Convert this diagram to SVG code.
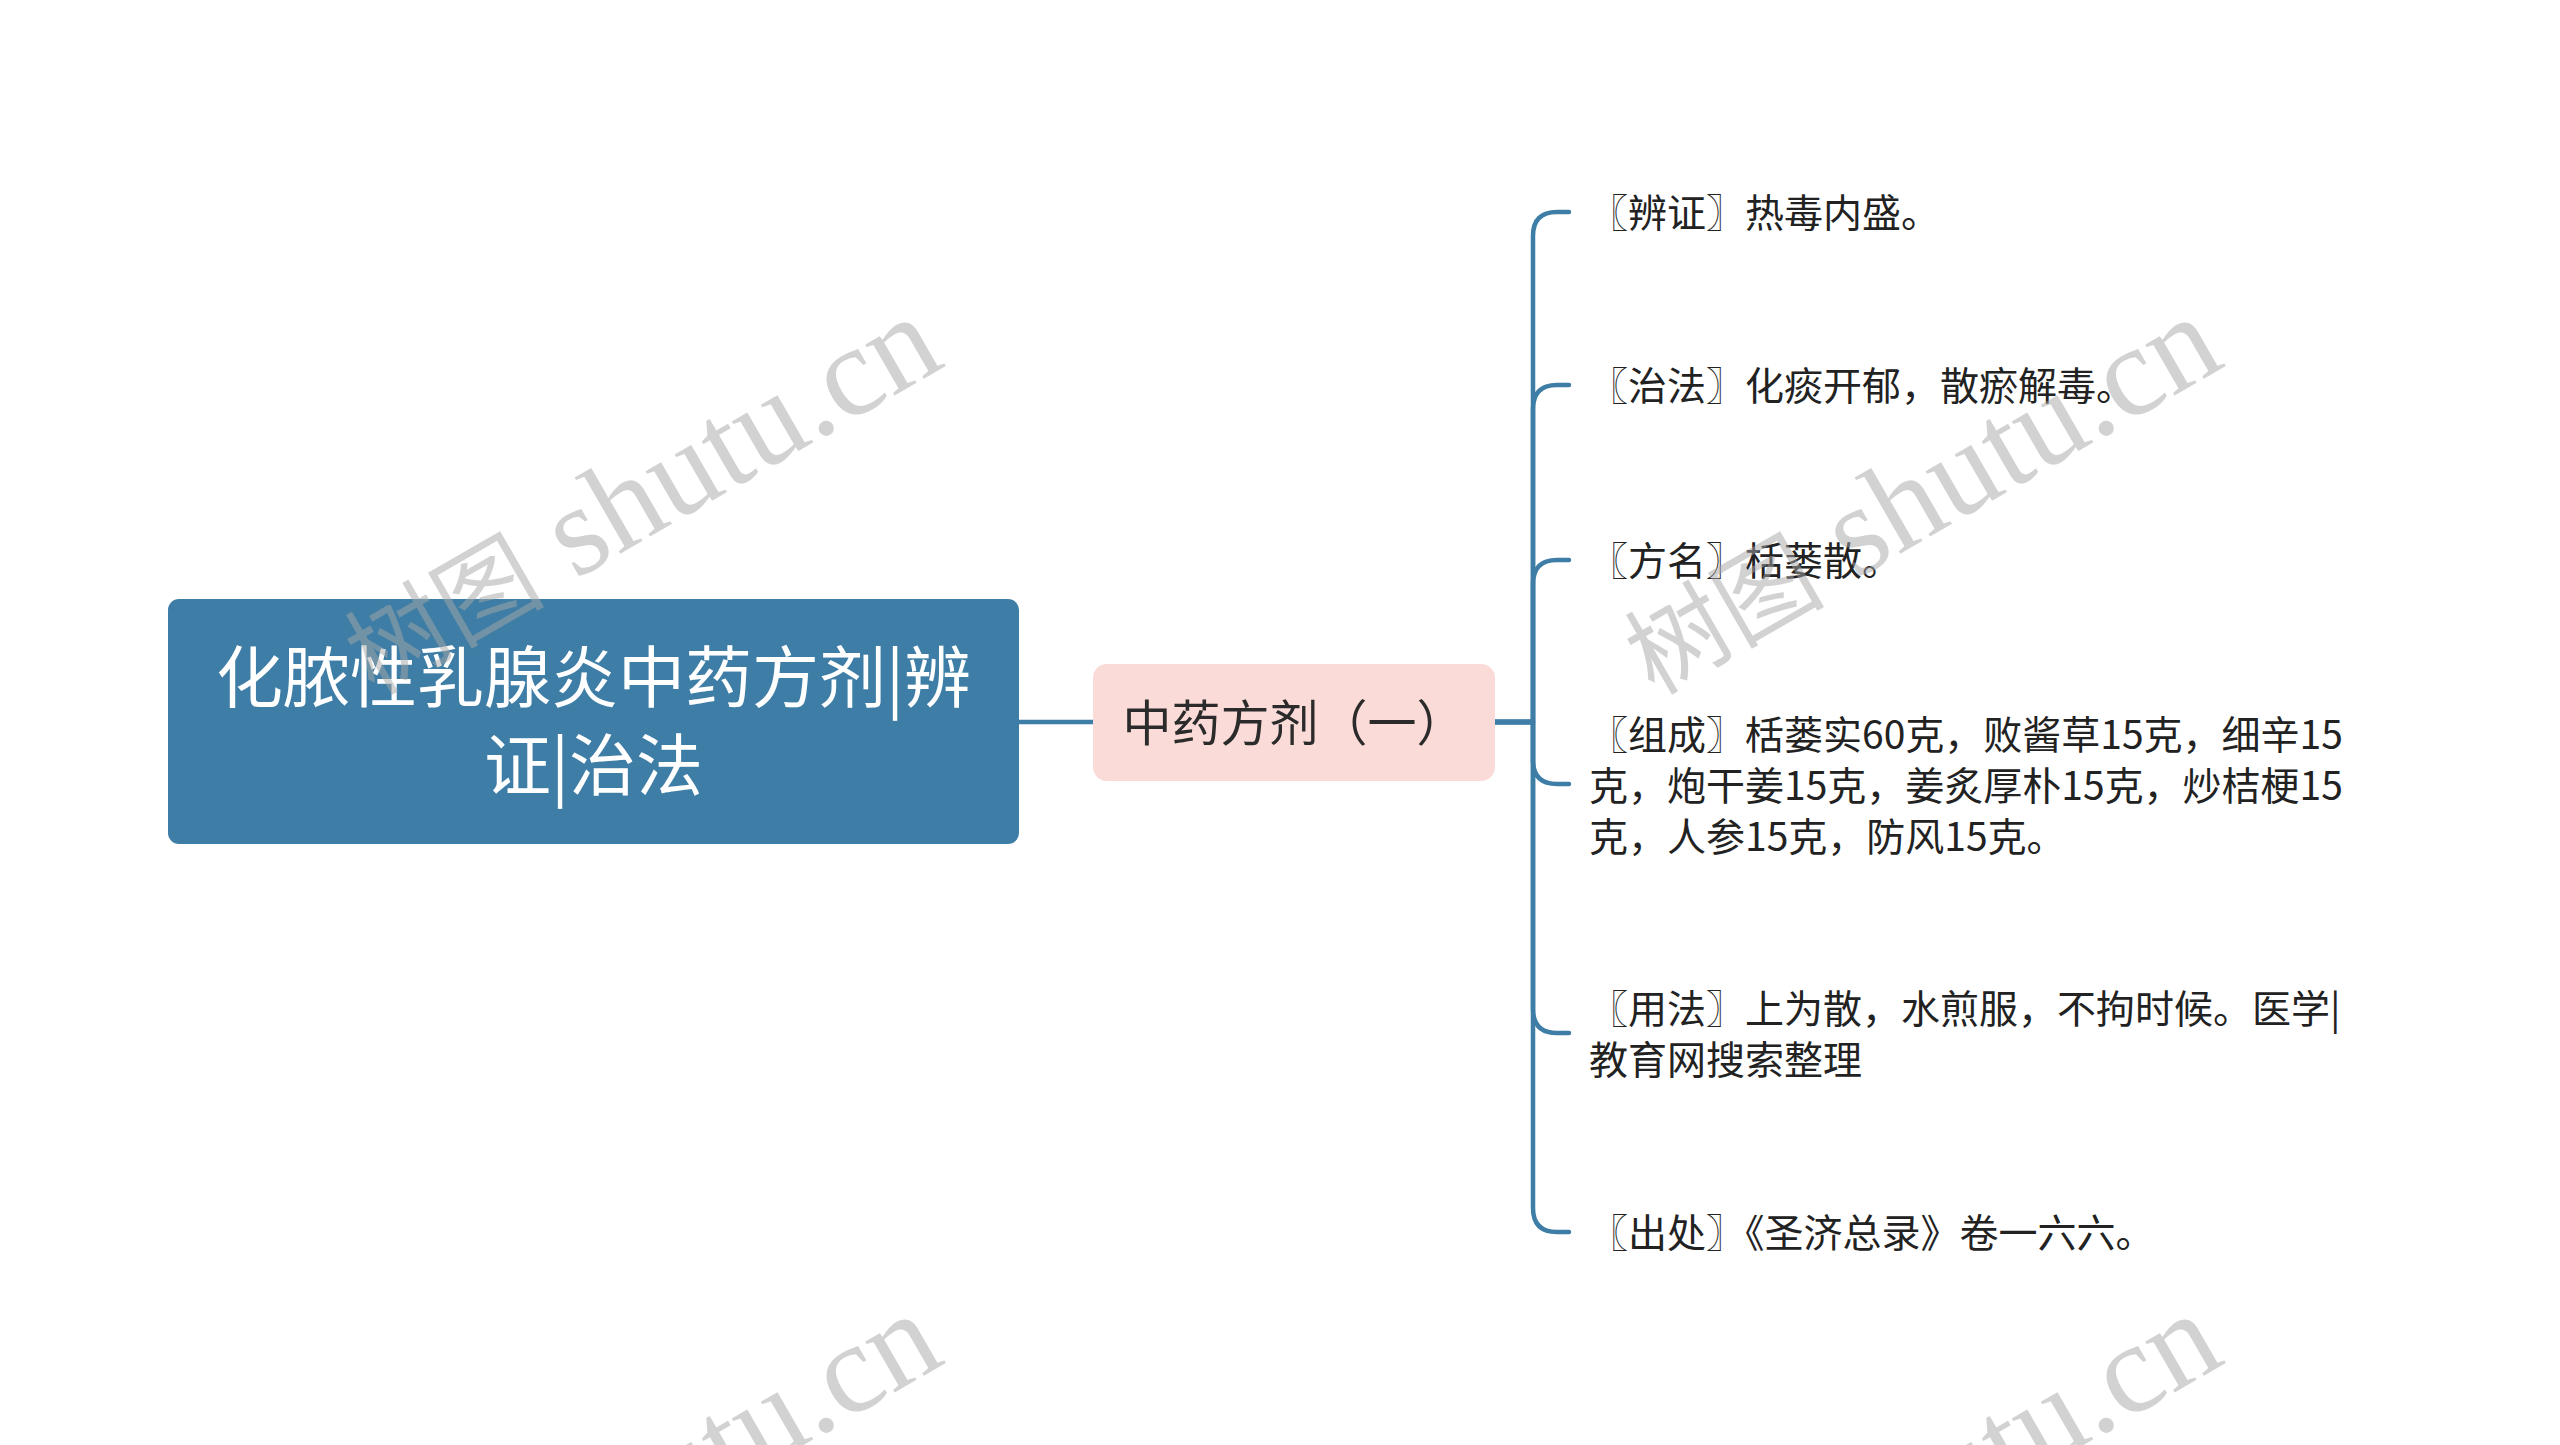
<svg xmlns="http://www.w3.org/2000/svg" width="2560" height="1445" viewBox="0 0 2560 1445">
<style>
.cjk{font-family:"Noto Sans CJK SC","Microsoft YaHei",sans-serif}
.root-t{font-size:67px;fill:#ffffff}
.mid-t{font-size:49px;fill:#2b2b2b}
.leaf-t{font-size:39px;fill:#222222}
.conn{fill:none;stroke:#3e7ea6;stroke-width:4.5;stroke-linecap:round;stroke-linejoin:round}
.wm{font-family:"Liberation Serif","Noto Sans CJK SC",serif;font-size:128px;fill:#a6a6a6;fill-opacity:0.5}
.wm-cjk{font-family:"Noto Sans CJK SC",serif;font-size:100px}
</style>
<rect width="2560" height="1445" fill="#ffffff"/>
<g id="connectors">
<path class="conn" d="M1019 722 H1093"/>
<path class="conn" d="M1495 722 H1533 V236 Q1533 212 1557 212 H1569"/>
<path class="conn" d="M1495 722 H1533 V409 Q1533 385 1557 385 H1569"/>
<path class="conn" d="M1495 722 H1533 V584 Q1533 560 1557 560 H1569"/>
<path class="conn" d="M1495 722 H1533 V760 Q1533 784 1557 784 H1569"/>
<path class="conn" d="M1495 722 H1533 V1009 Q1533 1033 1557 1033 H1569"/>
<path class="conn" d="M1495 722 H1533 V1208 Q1533 1232 1557 1232 H1569"/>
</g>
<g id="root">
<rect x="168" y="599" width="851" height="245" rx="11" fill="#3e7ea6"/>
<text class="cjk root-t" text-anchor="middle"><tspan x="593.5" y="702">化脓性乳腺炎中药方剂|辨</tspan><tspan x="593.5" y="790">证|治法</tspan></text>
</g>
<g id="mid">
<rect x="1093" y="664" width="402" height="117" rx="14" fill="#fadbd8"/>
<text class="cjk mid-t" x="1294" y="741" text-anchor="middle">中药方剂（一）</text>
</g>
<g id="leaf1"><text class="cjk leaf-t" x="1589" y="227">〖辨证〗热毒内盛。</text></g>
<g id="leaf2"><text class="cjk leaf-t" x="1589" y="400">〖治法〗化痰开郁，散瘀解毒。</text></g>
<g id="leaf3"><text class="cjk leaf-t" x="1589" y="575">〖方名〗栝蒌散。</text></g>
<g id="leaf4"><text class="cjk leaf-t"><tspan x="1589" y="749">〖组成〗栝蒌实60克，败酱草15克，细辛15</tspan><tspan x="1589" y="800">克，炮干姜15克，姜炙厚朴15克，炒桔梗15</tspan><tspan x="1589" y="851">克，人参15克，防风15克。</tspan></text></g>
<g id="leaf5"><text class="cjk leaf-t"><tspan x="1589" y="1023">〖用法〗上为散，水煎服，不拘时候。医学|</tspan><tspan x="1589" y="1074">教育网搜索整理</tspan></text></g>
<g id="leaf6"><text class="cjk leaf-t" x="1589" y="1247">〖出处〗《圣济总录》卷一六六。</text></g>
<g id="watermarks">
<text class="wm" transform="translate(374 696) rotate(-30)"><tspan class="wm-cjk">树图</tspan> shutu.cn</text>
<text class="wm" transform="translate(1654 696) rotate(-30)"><tspan class="wm-cjk">树图</tspan> shutu.cn</text>
<text class="wm" transform="translate(374 1693) rotate(-30)"><tspan class="wm-cjk">树图</tspan> shutu.cn</text>
<text class="wm" transform="translate(1654 1693) rotate(-30)"><tspan class="wm-cjk">树图</tspan> shutu.cn</text>
</g>
</svg>
